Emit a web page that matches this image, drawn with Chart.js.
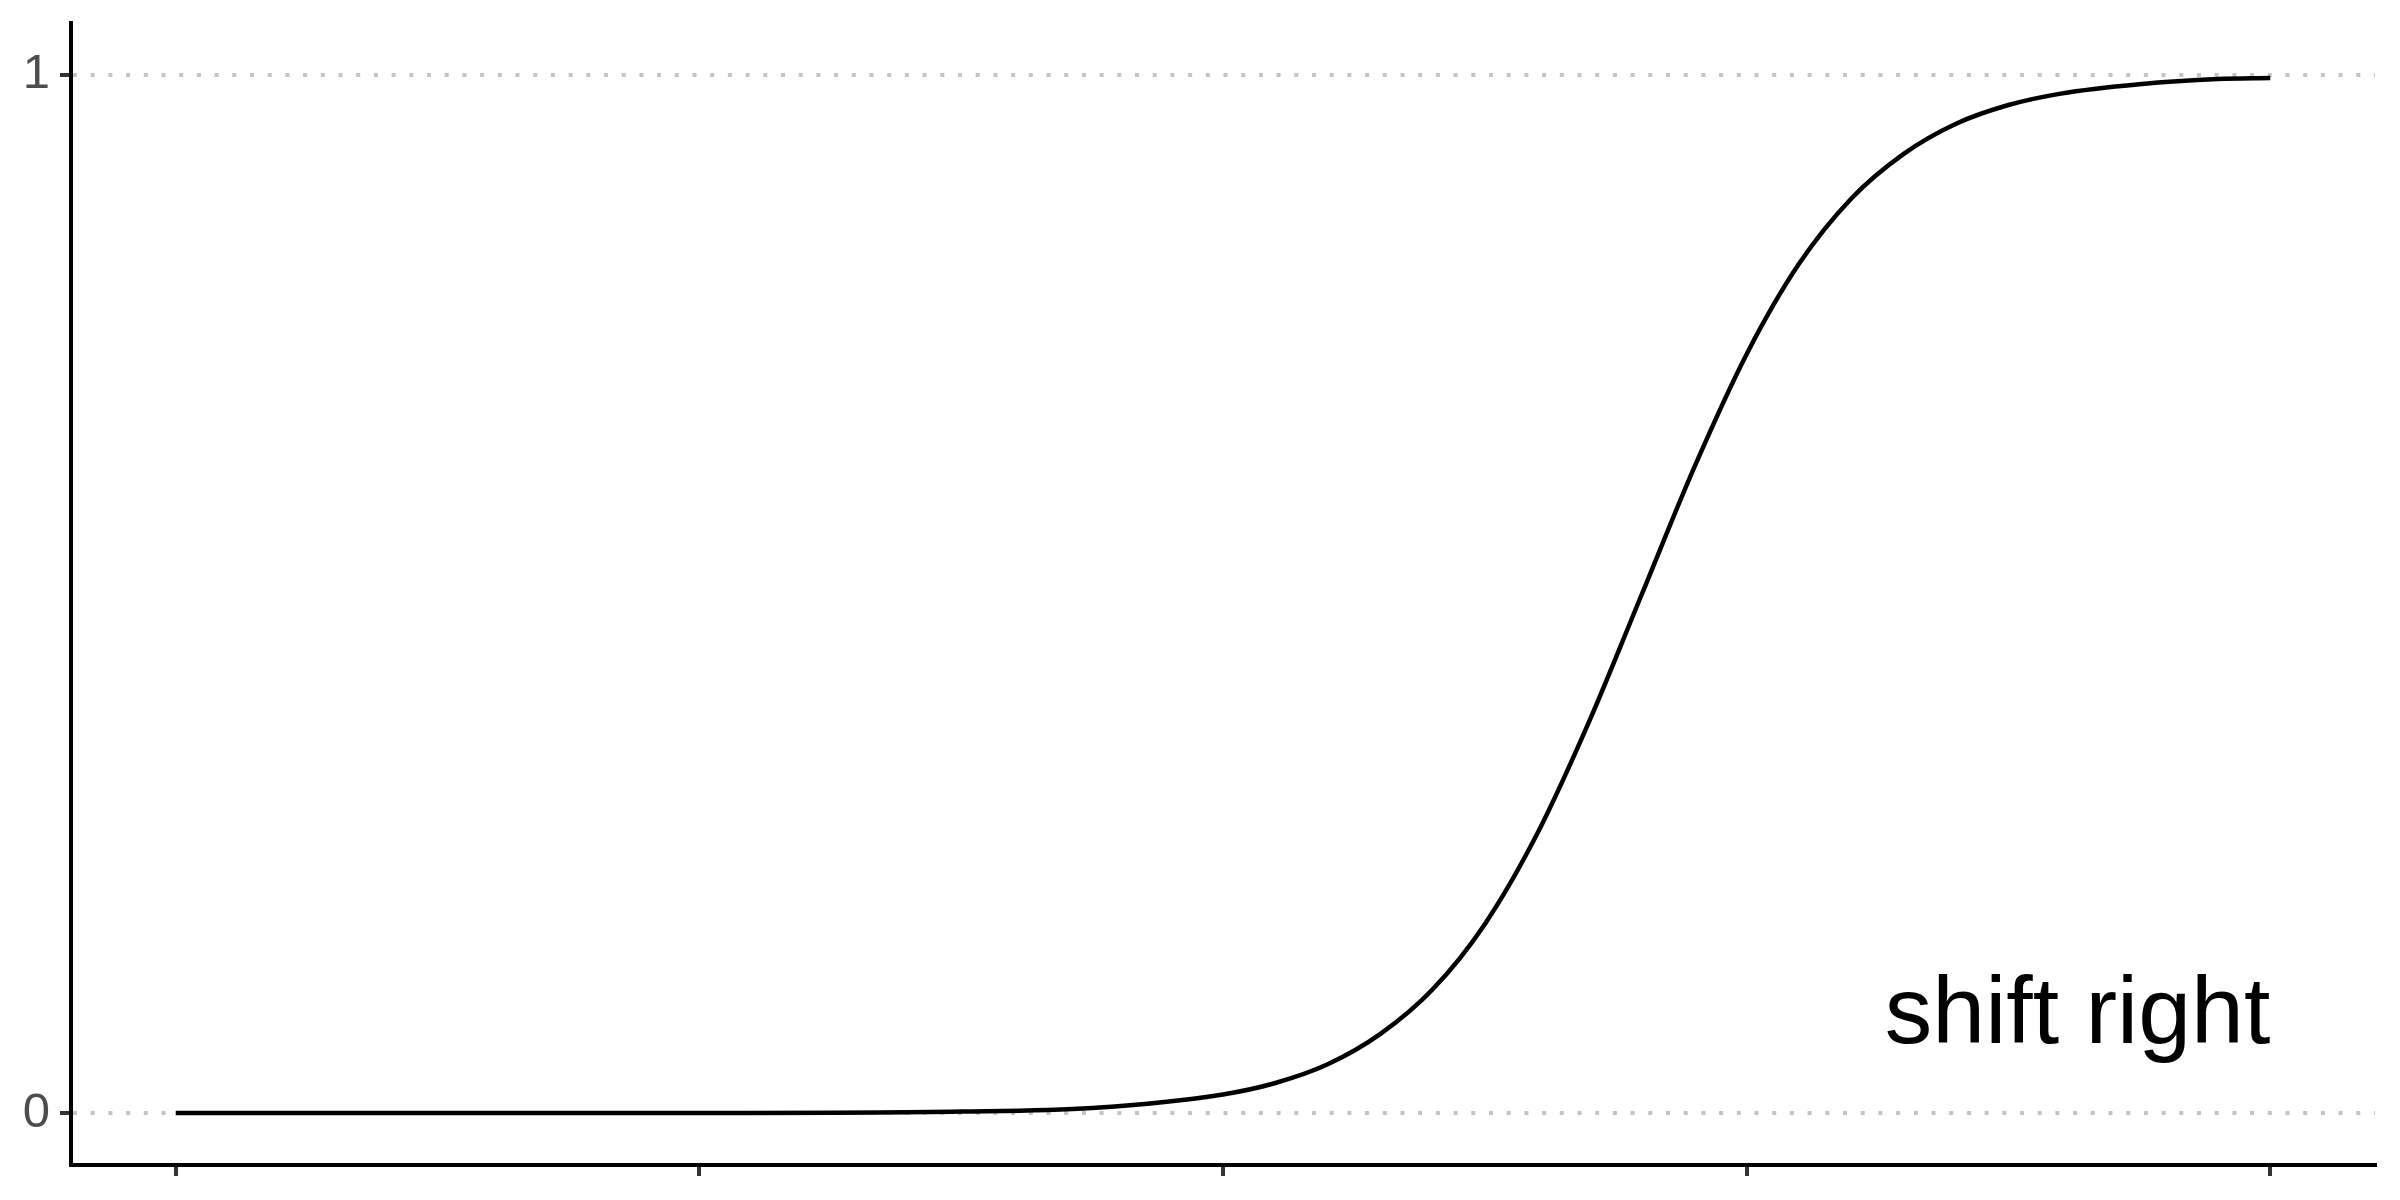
<!DOCTYPE html>
<html>
<head>
<meta charset="utf-8">
<script src="https://cdn.jsdelivr.net/npm/chart.js@4"></script>
<style>
  html, body { margin: 0; padding: 0; background: #fff; }
  #wrap { width: 2400px; height: 1200px; }
</style>
</head>
<body>
<div id="wrap"><canvas id="myChart" width="2400" height="1200"></canvas></div>
<script>
// values
let xValues = [0, 0.5, 1, 1.5, 1.75, 2, 2.1, 2.2, 2.3, 2.4, 2.5, 2.6, 2.7, 2.8, 2.9, 3, 3.1, 3.2, 3.3, 3.4, 3.5, 3.6, 3.75, 3.9, 4];
let yValues = [0, 0, 0.0001, 0.0015, 0.005, 0.018, 0.029, 0.047, 0.076, 0.119, 0.182, 0.269, 0.378, 0.5, 0.622, 0.731, 0.818, 0.881, 0.924, 0.953, 0.971, 0.982, 0.991, 0.996, 0.997];
let xTicks = [0, 1, 2, 3, 4];
let yTicks = [0, 1];
let yTickLabels = ['0', '1'];
let noteText = 'shift right';
let noteX = 4;
let noteY = 0.093;

let points = xValues.map((x, i) => ({ x: x, y: yValues[i] }));

const noteLabel = {
    id: 'noteLabel',
    afterDatasetsDraw(chart) {
        const { ctx, scales } = chart;
        ctx.save();
        ctx.font = '95px "Liberation Sans", Arial, sans-serif';
        ctx.fillStyle = '#000';
        ctx.textAlign = 'right';
        ctx.textBaseline = 'middle';
        ctx.fillText(noteText, scales.x.getPixelForValue(noteX), scales.y.getPixelForValue(noteY));
        ctx.restore();
    }
};

let ctx = document.getElementById('myChart').getContext('2d');

let myChart = new Chart(ctx, {
    type: 'line',
    data: {
        datasets: [{
            data: points,
            borderColor: '#000',
            borderWidth: 4.5,
            pointRadius: 0,
            fill: false,
            cubicInterpolationMode: 'monotone'
        }]
    },
    options: {
        responsive: false,
        devicePixelRatio: 1,
        animation: false,
        layout: {
            padding: { top: 23, right: 25, left: 0, bottom: 0 }
        },
        plugins: {
            legend: { display: false },
            tooltip: { enabled: false }
        },
        scales: {
            x: {
                type: 'linear',
                min: -0.2,
                max: 4.2,
                afterBuildTicks: (scale) => {
                    scale.ticks = xTicks.map(v => ({ value: v }));
                },
                afterFit: (scale) => {
                    scale.height = 35;
                    scale.paddingLeft = 0;
                    scale.paddingRight = 0;
                },
                ticks: { display: false },
                grid: {
                    drawOnChartArea: false,
                    drawTicks: true,
                    tickLength: 11,
                    tickColor: '#333',
                    tickWidth: 4,
                    lineWidth: 4
                },
                border: { color: '#000', width: 4 }
            },
            y: {
                min: -0.05,
                max: 1.05,
                afterBuildTicks: (scale) => {
                    scale.ticks = yTicks.map(v => ({ value: v }));
                },
                afterFit: (scale) => {
                    scale.width = 71;
                    scale.paddingTop = 0;
                    scale.paddingBottom = 0;
                },
                ticks: {
                    padding: 10,
                    color: '#4d4d4d',
                    font: { family: '"Liberation Sans", Arial, sans-serif', size: 49 },
                    callback: (value) => yTickLabels[yTicks.indexOf(value)]
                },
                grid: {
                    color: '#c4c4c4',
                    lineWidth: 4,
                    drawTicks: true,
                    tickLength: 11,
                    tickColor: '#333',
                    tickWidth: 4,
                    tickBorderDash: []
                },
                border: { color: '#000', width: 4, dash: [4, 13.7] }
            }
        }
    },
    plugins: [noteLabel]
});
</script>
</body>
</html>
